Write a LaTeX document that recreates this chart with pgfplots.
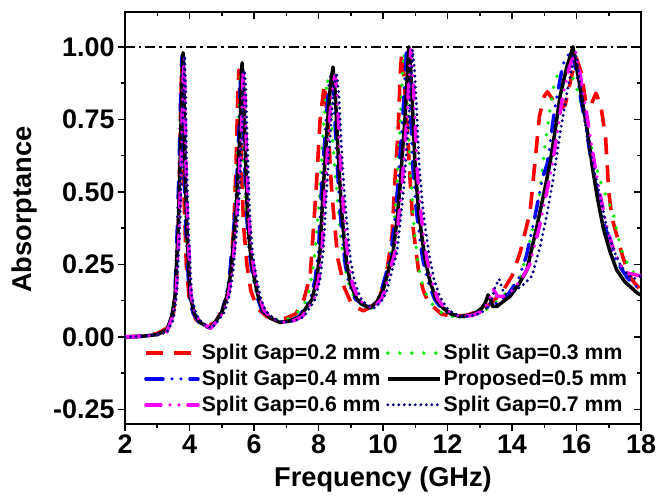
\documentclass[border=0pt]{standalone}
\usepackage{fontspec}
\setmainfont{Liberation Sans}
\usepackage{pgfplots}
\pgfplotsset{compat=1.18}
\definecolor{cred}{RGB}{255,0,0}
\definecolor{cgreen}{RGB}{0,235,0}
\definecolor{cblue}{RGB}{0,0,255}
\definecolor{cmag}{RGB}{255,0,255}
\definecolor{cnavy}{RGB}{0,0,128}
\begin{document}
\begin{tikzpicture}
\path[use as bounding box] (-125bp,-72bp) rectangle (531bp,424bp);
\begin{axis}[
 at={(0,0)}, anchor=south west,
 scale only axis, width=516bp, height=412bp,
 xmin=2, xmax=18, ymin=-0.30, ymax=1.12,
 xtick={2,4,...,18}, ytick={-0.25,0,0.25,0.5,0.75,1.0},
 minor x tick num=1, minor y tick num=1,
 tick align=outside, xtick pos=left, ytick pos=left,
 major tick length=7bp, minor tick length=4bp,
 axis line style={line width=1.8bp},
 every tick/.style={black, line width=1.5bp},
 ticklabel style={font=\bfseries\fontsize{27}{28}\selectfont},
 /pgf/number format/assume math mode=true,
 yticklabel style={/pgf/number format/.cd, fixed, fixed zerofill, precision=2},
 xlabel={Frequency (GHz)}, ylabel={Absorptance},
 label style={font=\bfseries\fontsize{27.3}{28}\selectfont},
 xlabel style={at={(axis description cs:0.5,-0.152)}, anchor=base},
 ylabel style={at={(axis description cs:-0.194,0.52)}, anchor=center, rotate=0},
 legend columns=2,
 legend style={at={(0.031,0.016)}, anchor=south west, draw=none, fill=none,
   font=\bfseries\fontsize{21.3}{21.3}\selectfont, row sep=5bp,
   /tikz/every even column/.append style={column sep=3.5bp},
   nodes={inner sep=2bp}},
 legend cell align=left,
 legend image code/.code={\draw[#1] (0bp,0bp) -- (52bp,0bp);},
 every axis plot/.append style={line join=round},
 clip=true,
]
\addplot[black, line width=1.4bp, dash pattern=on 10bp off 4bp on 2.5bp off 4bp, forget plot] coordinates {(2,1) (18,1)};
% red 0.2 mm
\addplot[cred, line width=3.6bp, dash pattern=on 17bp off 11bp] coordinates {
(2.0,0.000) (2.5,0.003) (3.0,0.012) (3.3,0.03) (3.5,0.08) (3.6,0.20) (3.67,0.45) (3.72,0.75) (3.76,0.95) (3.80,0.75) (3.84,0.45) (3.90,0.25) (4.0,0.12) (4.2,0.06) (4.5,0.035) (4.8,0.05) (5.0,0.09) (5.2,0.15) (5.3,0.25) (5.38,0.40) (5.44,0.58) (5.49,0.80) (5.53,0.92) (5.57,0.80) (5.62,0.55) (5.68,0.38) (5.78,0.25) (5.9,0.16) (6.1,0.10) (6.4,0.07) (6.7,0.06) (7.0,0.065) (7.3,0.08) (7.55,0.13) (7.74,0.21) (7.8,0.30) (7.95,0.55) (8.05,0.75) (8.18,0.87) (8.3,0.72) (8.4,0.52) (8.48,0.41) (8.6,0.27) (8.8,0.17) (9.0,0.12) (9.2,0.10) (9.4,0.09) (9.7,0.11) (9.9,0.14) (10.1,0.21) (10.28,0.35) (10.37,0.54) (10.47,0.71) (10.53,0.90) (10.58,0.98) (10.65,0.90) (10.75,0.72) (10.84,0.54) (10.94,0.37) (11.1,0.23) (11.25,0.16) (11.4,0.12) (11.8,0.08) (12.17,0.07) (12.6,0.075) (13.0,0.09) (13.4,0.12) (13.75,0.165) (14.0,0.21) (14.25,0.29) (14.56,0.43) (14.71,0.60) (14.85,0.76) (15.0,0.83) (15.1,0.845) (15.25,0.82) (15.45,0.78) (15.65,0.80) (15.85,0.90) (16.0,0.96) (16.15,0.91) (16.3,0.80) (16.45,0.80) (16.6,0.84) (16.75,0.80) (16.9,0.69) (17.0,0.50) (17.1,0.41) (17.25,0.35) (17.45,0.27) (17.7,0.20) (18.0,0.16)};
\addlegendentry{Split Gap=0.2 mm}
% green 0.3 mm
\addplot[cgreen, line width=3.8bp, line cap=round, dash pattern=on 0bp off 12bp] coordinates {
(2.0,0.000) (2.5,0.002) (3.0,0.009) (3.3,0.025) (3.5,0.09) (3.6,0.20) (3.66,0.40) (3.72,0.70) (3.78,0.97) (3.82,0.85) (3.85,0.60) (3.90,0.38) (4.0,0.15) (4.15,0.08) (4.35,0.045) (4.6,0.03) (4.85,0.06) (5.0,0.085) (5.15,0.14) (5.3,0.25) (5.4,0.40) (5.47,0.55) (5.53,0.75) (5.58,0.91) (5.62,0.85) (5.68,0.62) (5.75,0.44) (5.85,0.30) (6.0,0.19) (6.2,0.11) (6.5,0.07) (6.8,0.055) (7.0,0.06) (7.2,0.07) (7.5,0.10) (7.68,0.14) (7.85,0.25) (7.95,0.36) (8.05,0.52) (8.15,0.72) (8.27,0.89) (8.35,0.83) (8.45,0.66) (8.57,0.50) (8.7,0.33) (8.88,0.20) (9.13,0.13) (9.4,0.105) (9.65,0.10) (9.9,0.13) (10.1,0.20) (10.3,0.33) (10.42,0.50) (10.52,0.70) (10.6,0.90) (10.65,0.98) (10.71,0.90) (10.78,0.72) (10.86,0.55) (10.96,0.38) (11.1,0.24) (11.24,0.17) (11.46,0.12) (11.8,0.085) (12.3,0.065) (12.8,0.075) (13.3,0.10) (13.8,0.15) (14.25,0.20) (14.6,0.35) (14.87,0.50) (15.02,0.66) (15.2,0.80) (15.33,0.89) (15.55,0.92) (15.75,0.92) (15.95,0.88) (16.15,0.80) (16.35,0.71) (16.55,0.61) (16.73,0.54) (16.93,0.48) (17.13,0.43) (17.3,0.34) (17.45,0.28) (17.7,0.23) (18.0,0.20)};
\addlegendentry{Split Gap=0.3 mm}
% blue 0.4 mm
\addplot[cblue, line width=3.5bp, line cap=round, dash pattern=on 17bp off 9bp on 0bp off 9bp on 0bp off 9bp] coordinates {
(2.0,0.000) (2.5,0.002) (3.0,0.008) (3.3,0.02) (3.45,0.07) (3.55,0.15) (3.62,0.37) (3.68,0.60) (3.73,0.85) (3.77,0.97) (3.80,0.85) (3.83,0.60) (3.89,0.37) (3.99,0.14) (4.12,0.08) (4.3,0.05) (4.6,0.03) (4.85,0.06) (5.0,0.085) (5.13,0.14) (5.25,0.22) (5.32,0.31) (5.39,0.40) (5.44,0.48) (5.49,0.60) (5.54,0.72) (5.57,0.85) (5.60,0.93) (5.64,0.88) (5.69,0.68) (5.75,0.47) (5.8,0.37) (5.85,0.30) (5.92,0.24) (6.0,0.19) (6.12,0.13) (6.25,0.09) (6.5,0.065) (6.8,0.05) (7.1,0.055) (7.4,0.07) (7.75,0.13) (7.9,0.20) (8.0,0.30) (8.09,0.50) (8.17,0.64) (8.25,0.77) (8.33,0.87) (8.40,0.91) (8.47,0.84) (8.55,0.65) (8.62,0.52) (8.68,0.42) (8.75,0.33) (8.83,0.25) (8.95,0.18) (9.15,0.13) (9.4,0.11) (9.6,0.10) (9.85,0.13) (9.95,0.16) (10.1,0.22) (10.25,0.29) (10.38,0.42) (10.46,0.52) (10.55,0.66) (10.61,0.75) (10.67,0.87) (10.73,0.99) (10.79,0.92) (10.85,0.78) (10.93,0.58) (11.03,0.44) (11.13,0.35) (11.23,0.27) (11.4,0.19) (11.6,0.13) (11.8,0.10) (12.05,0.08) (12.35,0.07) (12.7,0.075) (13.0,0.09) (13.3,0.105) (13.6,0.12) (13.9,0.15) (14.2,0.20) (14.45,0.28) (14.72,0.42) (14.95,0.55) (15.1,0.60) (15.33,0.79) (15.58,0.94) (15.84,0.99) (16.0,0.91) (16.15,0.81) (16.3,0.72) (16.45,0.61) (16.64,0.50) (16.84,0.40) (17.05,0.31) (17.3,0.25) (17.6,0.20) (18.0,0.16)};
\addlegendentry{Split Gap=0.4 mm}
% black proposed 0.5 mm
\addplot[black, line width=3.5bp] coordinates {
(2.0,0.000) (2.5,0.002) (3.0,0.008) (3.3,0.025) (3.45,0.07) (3.55,0.14) (3.65,0.37) (3.71,0.60) (3.76,0.85) (3.80,0.98) (3.83,0.85) (3.86,0.60) (3.92,0.37) (4.02,0.14) (4.15,0.08) (4.33,0.05) (4.64,0.03) (4.85,0.06) (5.0,0.085) (5.16,0.14) (5.28,0.22) (5.35,0.31) (5.42,0.40) (5.47,0.48) (5.52,0.60) (5.57,0.72) (5.60,0.85) (5.63,0.945) (5.67,0.88) (5.72,0.68) (5.78,0.47) (5.83,0.37) (5.88,0.30) (5.95,0.24) (6.03,0.19) (6.15,0.13) (6.28,0.09) (6.5,0.065) (6.8,0.05) (7.1,0.055) (7.43,0.07) (7.8,0.13) (7.95,0.20) (8.05,0.30) (8.14,0.50) (8.22,0.64) (8.30,0.77) (8.38,0.88) (8.45,0.93) (8.52,0.84) (8.60,0.65) (8.67,0.52) (8.73,0.42) (8.80,0.33) (8.88,0.25) (9.0,0.18) (9.19,0.13) (9.4,0.11) (9.6,0.10) (9.8,0.12) (10.0,0.16) (10.15,0.22) (10.31,0.29) (10.45,0.42) (10.53,0.52) (10.62,0.66) (10.68,0.75) (10.74,0.87) (10.80,1.00) (10.86,0.92) (10.92,0.78) (11.0,0.58) (11.1,0.44) (11.2,0.35) (11.3,0.27) (11.46,0.19) (11.65,0.13) (11.86,0.10) (12.1,0.08) (12.39,0.07) (12.7,0.075) (12.9,0.085) (13.07,0.10) (13.18,0.12) (13.26,0.145) (13.33,0.13) (13.4,0.105) (13.53,0.105) (13.7,0.12) (13.94,0.14) (14.2,0.18) (14.46,0.23) (14.77,0.38) (15.0,0.50) (15.18,0.60) (15.35,0.72) (15.49,0.83) (15.7,0.93) (15.89,1.00) (16.05,0.90) (16.2,0.80) (16.33,0.715) (16.5,0.58) (16.64,0.485) (16.84,0.37) (17.05,0.29) (17.25,0.23) (17.5,0.19) (17.9,0.15) (18.0,0.145)};
\addlegendentry{Proposed=0.5 mm}
% magenta 0.6 mm
\addplot[cmag, line width=3.5bp, line cap=round, dash pattern=on 15bp off 9bp on 0bp off 9bp on 0bp off 9bp] coordinates {
(2.0,0.000) (2.5,0.002) (3.0,0.007) (3.3,0.018) (3.48,0.07) (3.58,0.14) (3.68,0.37) (3.74,0.60) (3.79,0.85) (3.83,0.96) (3.86,0.85) (3.89,0.60) (3.95,0.37) (4.05,0.14) (4.18,0.08) (4.36,0.05) (4.66,0.03) (4.9,0.06) (5.05,0.085) (5.2,0.14) (5.32,0.22) (5.39,0.31) (5.46,0.40) (5.51,0.48) (5.56,0.60) (5.61,0.72) (5.64,0.84) (5.67,0.92) (5.71,0.87) (5.76,0.68) (5.82,0.47) (5.87,0.37) (5.92,0.30) (5.99,0.24) (6.07,0.19) (6.19,0.13) (6.32,0.09) (6.55,0.065) (6.85,0.05) (7.2,0.055) (7.5,0.07) (7.86,0.13) (8.01,0.20) (8.11,0.30) (8.2,0.50) (8.28,0.64) (8.36,0.77) (8.44,0.86) (8.51,0.90) (8.58,0.84) (8.66,0.65) (8.73,0.52) (8.79,0.42) (8.86,0.33) (8.94,0.25) (9.06,0.18) (9.25,0.13) (9.45,0.11) (9.7,0.10) (9.95,0.13) (10.06,0.16) (10.2,0.22) (10.37,0.29) (10.5,0.42) (10.59,0.52) (10.68,0.66) (10.74,0.75) (10.8,0.87) (10.86,0.99) (10.92,0.92) (10.98,0.78) (11.06,0.58) (11.16,0.44) (11.26,0.35) (11.36,0.27) (11.52,0.19) (11.7,0.13) (11.92,0.10) (12.15,0.08) (12.45,0.07) (12.8,0.075) (13.1,0.09) (13.3,0.13) (13.42,0.165) (13.55,0.14) (13.73,0.14) (14.0,0.16) (14.3,0.20) (14.55,0.25) (14.85,0.38) (15.08,0.50) (15.26,0.60) (15.43,0.72) (15.57,0.83) (15.78,0.93) (15.97,0.985) (16.12,0.90) (16.27,0.80) (16.4,0.71) (16.57,0.59) (16.72,0.50) (16.92,0.39) (17.12,0.31) (17.35,0.25) (17.6,0.22) (18.0,0.21)};
\addlegendentry{Split Gap=0.6 mm}
% navy 0.7 mm
\addplot[cnavy, line width=3.2bp, line cap=round, dash pattern=on 0bp off 5.5bp] coordinates {
(2.0,0.000) (2.5,0.002) (3.0,0.007) (3.3,0.016) (3.5,0.06) (3.6,0.14) (3.7,0.37) (3.76,0.60) (3.81,0.85) (3.85,0.97) (3.88,0.85) (3.91,0.60) (3.97,0.37) (4.07,0.14) (4.2,0.08) (4.38,0.05) (4.68,0.03) (4.92,0.06) (5.08,0.085) (5.23,0.14) (5.35,0.22) (5.42,0.31) (5.49,0.40) (5.54,0.48) (5.59,0.60) (5.64,0.72) (5.67,0.84) (5.70,0.92) (5.74,0.87) (5.79,0.68) (5.85,0.47) (5.9,0.37) (5.95,0.30) (6.02,0.24) (6.1,0.19) (6.22,0.13) (6.36,0.09) (6.6,0.065) (6.9,0.05) (7.25,0.055) (7.55,0.07) (7.9,0.13) (8.05,0.20) (8.15,0.30) (8.25,0.50) (8.33,0.64) (8.41,0.77) (8.49,0.87) (8.56,0.91) (8.63,0.84) (8.71,0.66) (8.78,0.53) (8.85,0.43) (8.92,0.34) (9.0,0.26) (9.12,0.19) (9.3,0.135) (9.5,0.11) (9.75,0.10) (10.0,0.13) (10.12,0.16) (10.26,0.22) (10.43,0.29) (10.56,0.42) (10.65,0.52) (10.74,0.66) (10.8,0.75) (10.86,0.87) (10.92,0.99) (10.98,0.92) (11.04,0.79) (11.12,0.60) (11.22,0.46) (11.32,0.37) (11.42,0.29) (11.58,0.20) (11.76,0.14) (11.98,0.10) (12.2,0.08) (12.5,0.07) (12.85,0.075) (13.15,0.09) (13.35,0.12) (13.47,0.17) (13.6,0.20) (13.72,0.16) (13.85,0.14) (14.1,0.16) (14.35,0.18) (14.62,0.21) (14.87,0.31) (15.08,0.42) (15.27,0.54) (15.49,0.70) (15.7,0.84) (15.88,0.94) (16.0,0.97) (16.1,0.88) (16.2,0.80) (16.33,0.69) (16.48,0.61) (16.64,0.53) (16.8,0.45) (16.95,0.37) (17.15,0.30) (17.35,0.25) (17.55,0.22) (17.75,0.20) (18.0,0.21)};
\addlegendentry{Split Gap=0.7 mm}
\end{axis}
\begin{axis}[
 at={(0,0)}, anchor=south west,
 scale only axis, width=516bp, height=412bp,
 xmin=2, xmax=18, ymin=-0.30, ymax=1.12,
 xtick={2,4,...,18}, ytick={-0.25,0,0.25,0.5,0.75,1.0},
 minor x tick num=1, minor y tick num=1,
 tick align=inside, xtick pos=right, ytick pos=right,
 major tick length=7bp, minor tick length=4bp,
 axis line style={draw=none},
 every tick/.style={black, line width=1.5bp},
 xticklabels={}, yticklabels={},
]
\end{axis}
\end{tikzpicture}
\end{document}
